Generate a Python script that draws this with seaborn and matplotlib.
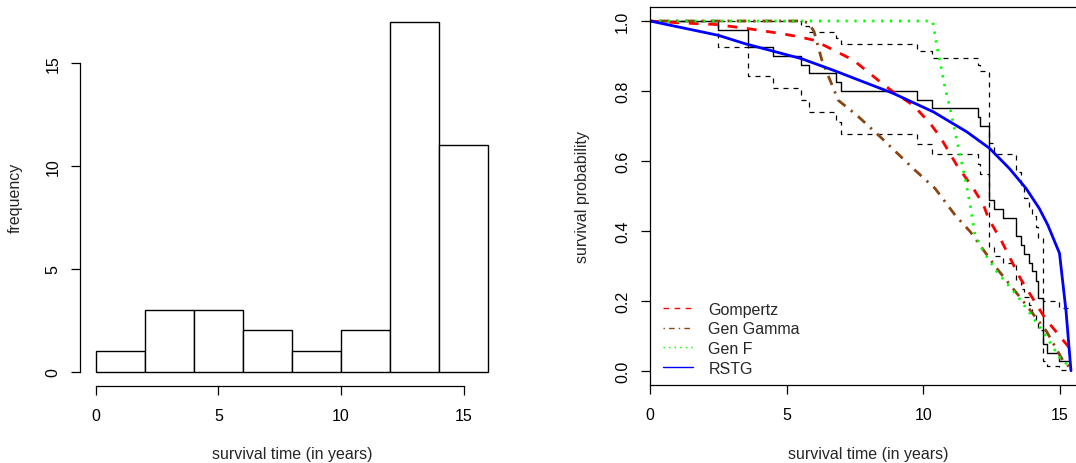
import numpy as np
import matplotlib
matplotlib.use("Agg")
import matplotlib.pyplot as plt
from matplotlib.lines import Line2D
import seaborn as sns

# ── data ──────────────────────────────────────────────────────────────────────
bin_edges = [0, 2, 4, 6, 8, 10, 12, 14, 16]
bin_counts = [1, 3, 3, 2, 1, 2, 17, 11]

# Kaplan-Meier estimate + confidence band
km_t = [0, 2.50, 3.60, 4.49, 5.51, 5.80, 6.80, 6.98, 9.78, 10.31, 12.01, 12.08,
        12.40, 12.60, 12.90, 13.39, 13.56, 13.69, 13.88, 13.96, 14.12, 14.19,
        14.39, 14.51, 14.98, 15.37]
km_s = [1.0, 0.975, 0.925, 0.90, 0.875, 0.85, 0.825, 0.80, 0.775, 0.75, 0.725, 0.70,
        0.488, 0.462, 0.436, 0.384, 0.36, 0.333, 0.307, 0.284, 0.257, 0.207,
        0.077, 0.051, 0.027, 0.027]
km_lo = [1.0, 0.926, 0.843, 0.809, 0.773, 0.740, 0.710, 0.678, 0.648, 0.619, 0.591, 0.562,
         0.355, 0.329, 0.307, 0.26, 0.234, 0.211, 0.188, 0.165, 0.143, 0.117,
         0.027, 0.0125, 0.003, 0.003]
km_hi = [1.0, 1.0, 1.0, 1.0, 0.985, 0.969, 0.951, 0.933, 0.914, 0.894, 0.875, 0.856,
         0.65, 0.621, 0.621, 0.569, 0.531, 0.493, 0.466, 0.441, 0.41, 0.379,
         0.198, 0.198, 0.179, 0.179]

gomp_t = [0, 1.0, 2.4, 3.6, 4.8, 5.5, 6.0, 7.44, 8.42, 8.9, 9.63, 10.25, 10.61,
          11.22, 11.83, 12.2, 12.38, 12.87, 13.54, 14.15, 14.45, 15.25, 15.4]
gomp_s = [1.0, 0.995, 0.99, 0.978, 0.964, 0.954, 0.945, 0.888, 0.826, 0.797, 0.759,
          0.707, 0.669, 0.588, 0.521, 0.474, 0.436, 0.369, 0.265, 0.188, 0.15, 0.074, 0.06]

ggam_t = [0, 5.5, 5.8, 6.0, 6.28, 6.59, 6.89, 7.56, 8.42, 9.63, 10.43, 11.16, 11.71,
          12.68, 13.66, 14.51, 15.12, 15.35]
ggam_s = [1.0, 1.0, 0.995, 0.97, 0.89, 0.83, 0.773, 0.731, 0.669, 0.578, 0.521, 0.445,
          0.398, 0.293, 0.198, 0.112, 0.027, 0.01]

genf_t = [0, 10.34, 10.49, 10.61, 10.79, 10.98, 11.16, 11.34, 11.53, 11.71, 11.89,
          12.2, 12.68, 13.41, 14.03, 14.45, 15.0, 15.34]
genf_s = [1.0, 1.0, 0.93, 0.883, 0.81, 0.75, 0.683, 0.617, 0.55, 0.474, 0.388,
          0.341, 0.284, 0.217, 0.150, 0.103, 0.036, 0.0125]

rstg_t = [0, 2.5, 3.48, 5.55, 6.71, 8.9, 10.37, 11.59, 12.42, 13.15, 13.76, 14.24,
          14.55, 14.98, 15.22, 15.40]
rstg_s = [1.0, 0.959, 0.935, 0.892, 0.859, 0.793, 0.740, 0.683, 0.636, 0.578, 0.521,
          0.464, 0.417, 0.336, 0.170, 0.0]

legend_labels = ["Gompertz", "Gen Gamma", "Gen F", "RSTG"]

# ── style ─────────────────────────────────────────────────────────────────────
sns.set_style("ticks")
plt.rcParams["font.family"] = ["Liberation Sans", "DejaVu Sans"]
FS = 11.5
RED, BROWN, GREEN, BLUE = "#FF0000", "#8B4513", "#00FF00", "#0000FF"

W, H = 1076, 464
fig = plt.figure(figsize=(W / 100, H / 100), dpi=100)
ax1 = fig.add_axes([80.3 / W, (H - 386.7) / H, (503.7 - 80.3) / W, (386.7 - 8.5) / H])
ax2 = fig.add_axes([650 / W, (H - 385.7) / H, 436 / W, (385.7 - 8) / H])

# ── left: histogram ───────────────────────────────────────────────────────────
mids = [(a + b) / 2 for a, b in zip(bin_edges[:-1], bin_edges[1:])]
sns.histplot(x=mids, weights=bin_counts, bins=bin_edges, ax=ax1,
             color="white", edgecolor="black", linewidth=1.0, alpha=1)
ax1.set_xlim(-0.64, 16.64)
ax1.set_ylim(-0.68, 17.68)
for s in ["top", "right"]:
    ax1.spines[s].set_visible(False)
ax1.spines["left"].set_bounds(0, 15)
ax1.spines["bottom"].set_bounds(0, 15)
ax1.set_xticks([0, 5, 10, 15])
ax1.set_yticks([0, 5, 10, 15], ["0", "5", "10", "15"], rotation=90, va="center")
ax1.set_xlabel("survival time (in years)", fontsize=FS, va="center")
ax1.set_ylabel("frequency", fontsize=FS, va="center")
ax1.xaxis.set_label_coords(0.5, (386.7 - 455) / 378.2)
ax1.yaxis.set_label_coords((15 - 80.3) / 423.4, 0.5)

# ── right: survival curves ────────────────────────────────────────────────────
common = dict(ax=ax2, estimator=None, sort=False)
sns.lineplot(x=km_t, y=km_s, color="black", lw=1.0, drawstyle="steps-post", **common)
sns.lineplot(x=km_t, y=km_lo, color="black", lw=0.9, drawstyle="steps-post",
             linestyle=(0, (4, 4)), **common)
sns.lineplot(x=km_t, y=km_hi, color="black", lw=0.9, drawstyle="steps-post",
             linestyle=(0, (4, 4)), **common)
sns.lineplot(x=gomp_t, y=gomp_s, color=RED, lw=2.0, linestyle=(0, (3.5, 3.5)), **common)
sns.lineplot(x=ggam_t, y=ggam_s, color=BROWN, lw=2.0, linestyle=(0, (0.8, 2.5, 3.5, 2.5)), **common)
sns.lineplot(x=genf_t, y=genf_s, color=GREEN, lw=2.0, linestyle=(0, (0.8, 2.4)), **common)
sns.lineplot(x=rstg_t, y=rstg_s, color=BLUE, lw=2.0, **common)

ax2.set_xlim(0, 15.95)
ax2.set_ylim(-0.04, 1.04)
ax2.set_xticks([0, 5, 10, 15])
yt = [0, 0.2, 0.4, 0.6, 0.8, 1.0]
ax2.set_yticks(yt, [f"{v:.1f}" for v in yt], rotation=90, va="center")
ax2.set_xlabel("survival time (in years)", fontsize=FS, va="center")
ax2.set_ylabel("survival probability", fontsize=FS, va="center")
ax2.xaxis.set_label_coords(0.5, (385.7 - 455) / 377.7)
ax2.yaxis.set_label_coords((583 - 650) / 436, 0.5)

handles = [
    Line2D([], [], color=RED, lw=1, linestyle=(0, (4, 4))),
    Line2D([], [], color=BROWN, lw=1, linestyle=(0, (1, 3, 4, 3))),
    Line2D([], [], color=GREEN, lw=1, linestyle=(0, (1, 3))),
    Line2D([], [], color=BLUE, lw=1),
]
ax2.legend(handles, legend_labels, loc="center left", bbox_to_anchor=(0.015, 0.122),
           frameon=False, fontsize=FS, handlelength=1.9, handletextpad=0.95,
           labelspacing=0.29, borderaxespad=0)

for ax in (ax1, ax2):
    for sp in ax.spines.values():
        sp.set_linewidth(0.9)
        sp.set_color("black")
    ax.tick_params(axis="both", direction="out", length=6.8, width=0.9,
                   labelsize=FS, colors="black")
    ax.tick_params(axis="x", pad=8.9)
    ax.tick_params(axis="y", pad=7.5)

fig.savefig("out.png", dpi=100)
